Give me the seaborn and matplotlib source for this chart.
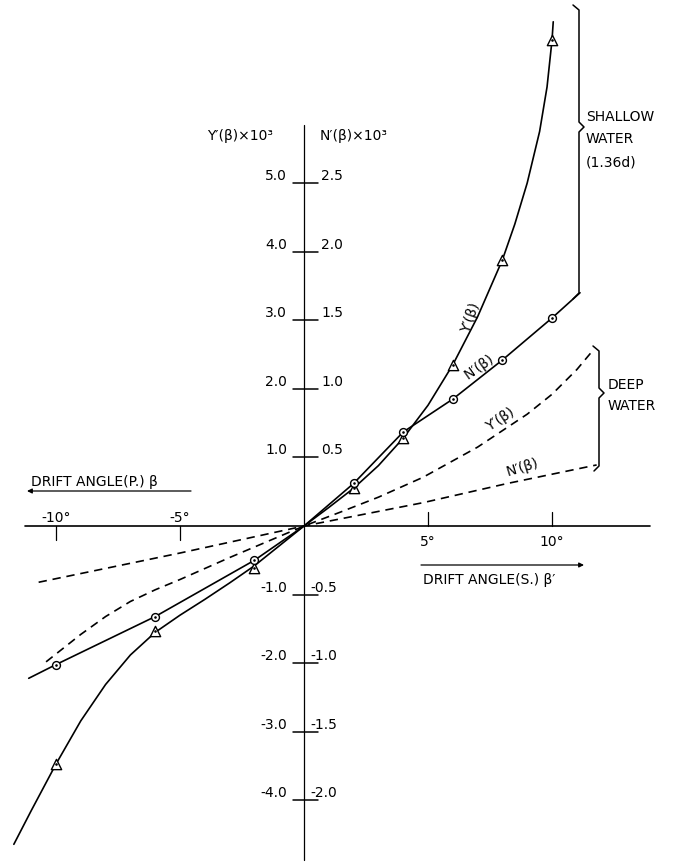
import numpy as np
import pandas as pd
import matplotlib
matplotlib.use("Agg")
import matplotlib.pyplot as plt
import seaborn as sns

sns.set_theme(style="white")
plt.rcParams['font.family'] = ['DejaVu Sans']

# ---------------- data ----------------
# measured points, drift angle in degrees
beta_points = [-10, -6, -2, 2, 4, 6, 8, 10]
Y_shallow_points = [-3.47, -1.53, -0.61, 0.55, 1.28, 2.35, 3.88, 7.08]      # Y'(beta) x10^3
N_shallow_points = [-1.01, -0.66, -0.25, 0.31, 0.685, 0.925, 1.21, 1.516]   # N'(beta) x10^3

# faired curve Y'(beta), shallow water
Y_shallow_curve_beta = [-11.7, -11.0, -10.0, -9.0, -8.0, -7.0, -6.0, -5.0, -4.0, -3.0, -2.0, -1.0,
                        0.0, 1.0, 2.0, 3.0, 4.0, 5.0, 6.0, 7.0, 8.0, 8.5, 9.0, 9.5, 9.8, 10.0, 10.05]
Y_shallow_curve = [-4.64, -4.15, -3.47, -2.84, -2.31, -1.88, -1.55, -1.30, -1.07, -0.83, -0.58, -0.29,
                   0.0, 0.27, 0.55, 0.88, 1.28, 1.76, 2.35, 3.05, 3.88, 4.40, 5.00, 5.75, 6.40, 7.08, 7.35]

# N'(beta), shallow water line
N_shallow_line_beta = [-11.1, -10, -6, -2, 0, 2, 4, 6, 8, 10, 11.13]
N_shallow_line = [-1.11, -1.01, -0.66, -0.25, 0.0, 0.31, 0.685, 0.925, 1.21, 1.516, 1.70]

# deep water curves (dashed)
Y_deep_beta = [-10.4, -9.0, -8.0, -7.0, -6.0, -5.0, -3.0, 0.0, 1.45, 3.0, 4.8, 7.0, 9.0, 10.0, 11.0, 11.65]
Y_deep = [-1.98, -1.58, -1.32, -1.10, -0.93, -0.78, -0.46, 0.0, 0.20, 0.42, 0.71, 1.15, 1.63, 1.92, 2.28, 2.56]
N_deep_beta = [-10.7, -5.0, 0.0, 4.8, 8.2, 11.8]
N_deep = [-0.41, -0.197, 0.0, 0.17, 0.31, 0.445]

# axis ticks
Y_ticks = [-4.0, -3.0, -2.0, -1.0, 1.0, 2.0, 3.0, 4.0, 5.0]
Y_tick_labels = ["-4.0", "-3.0", "-2.0", "-1.0", "1.0", "2.0", "3.0", "4.0", "5.0"]
N_tick_labels = ["-2.0", "-1.5", "-1.0", "-0.5", "0.5", "1.0", "1.5", "2.0", "2.5"]
beta_ticks = [-10, -5, 5, 10]
beta_tick_labels = ["-10°", "-5°", "5°", "10°"]

N_TO_Y = 2.0  # N' scale: 2.5 on N' axis sits at 5.0 on Y' axis

# ---------------- layout ----------------
W, H = 680, 863
X0, Y0 = 304, 526          # pixel position of the origin
SX, SY = 24.8, 68.6        # pixels per degree / per Y' unit


def P(x, y):
    """pixel position -> data coordinates (for annotations only)"""
    return ((x - X0) / SX, (Y0 - y) / SY)


fig = plt.figure(figsize=(W / 100, H / 100), dpi=100)
fig.patch.set_facecolor("white")
ax = fig.add_axes([0, 0, 1, 1])
ax.set_xlim(P(0, 0)[0], P(W, 0)[0])
ax.set_ylim(P(0, H)[1], P(0, 0)[1])
ax.axis("off")

K = "black"
FS = 10

# axes
ax.plot([P(25, 0)[0], P(650, 0)[0]], [0, 0], color=K, lw=1.2)
ax.plot([0, 0], [P(0, 860)[1], P(0, 125)[1]], color=K, lw=0.9)

# y ticks and labels
for v, ly, ln in zip(Y_ticks, Y_tick_labels, N_tick_labels):
    ax.plot([P(293, 0)[0], P(318, 0)[0]], [v, v], color=K, lw=1.1)
    ax.text(P(287, 0)[0], v, ly, ha="right", va="bottom", fontsize=FS, color=K)
    xr = P(321, 0)[0] if v > 0 else P(310, 0)[0]
    ax.text(xr, v, ln, ha="left", va="bottom", fontsize=FS, color=K)

# x ticks and labels
for b, lab in zip(beta_ticks, beta_tick_labels):
    if b < 0:
        ax.plot([b, b], [0, P(0, 540)[1]], color=K, lw=0.9)
        ax.text(b, P(0, 525)[1], lab, ha="center", va="bottom", fontsize=FS, color=K)
    else:
        ax.plot([b, b], [0, P(0, 512)[1]], color=K, lw=0.9)
        ax.text(b, P(0, 535)[1], lab, ha="center", va="top", fontsize=FS, color=K)

# axis titles
ax.text(P(240, 0)[0], P(0, 136)[1], "Y′(β)×10³", ha="center", va="center", fontsize=FS, color=K)
ax.text(P(320, 0)[0], P(0, 136)[1], "N′(β)×10³", ha="left", va="center", fontsize=FS, color=K)

ax.text(P(31, 0)[0], P(0, 482)[1], "DRIFT ANGLE(P.) β", ha="left", va="center", fontsize=FS, color=K)
ax.annotate("", xy=P(27, 491), xytext=P(191, 491),
            arrowprops=dict(arrowstyle="-|>", lw=0.9, color=K, mutation_scale=7, shrinkA=0, shrinkB=0))
ax.text(P(423, 0)[0], P(0, 580)[1], "DRIFT ANGLE(S.) β′", ha="left", va="center", fontsize=FS, color=K)
ax.annotate("", xy=P(584, 565), xytext=P(421, 565),
            arrowprops=dict(arrowstyle="-|>", lw=0.9, color=K, mutation_scale=7, shrinkA=0, shrinkB=0))

# ---------------- curves ----------------
sns.lineplot(x=Y_shallow_curve_beta, y=Y_shallow_curve, sort=False, estimator=None,
             color=K, linewidth=1.2, ax=ax)
sns.lineplot(x=N_shallow_line_beta, y=np.array(N_shallow_line) * N_TO_Y, sort=False, estimator=None,
             color=K, linewidth=1.2, ax=ax)
sns.lineplot(x=Y_deep_beta, y=Y_deep, sort=False, estimator=None,
             color=K, linewidth=1.2, linestyle=(0, (5, 3.5)), ax=ax)
sns.lineplot(x=N_deep_beta, y=np.array(N_deep) * N_TO_Y, sort=False, estimator=None,
             color=K, linewidth=1.2, linestyle=(0, (5, 3.5)), ax=ax)

# markers
sns.scatterplot(x=beta_points, y=Y_shallow_points, marker="^", s=55, facecolor="white",
                edgecolor=K, linewidth=1.0, zorder=5, ax=ax)
sns.scatterplot(x=beta_points, y=np.array(N_shallow_points) * N_TO_Y, marker="o", s=32, facecolor="white",
                edgecolor=K, linewidth=1.0, zorder=6, ax=ax)
ax.scatter(beta_points, Y_shallow_points, marker=".", s=3, color=K, zorder=7)
ax.scatter(beta_points, np.array(N_shallow_points) * N_TO_Y, marker=".", s=3, color=K, zorder=7)

# curve labels
ax.text(*P(471, 318), "Y′(β)", rotation=70, ha="center", va="center", fontsize=FS, color=K)
ax.text(*P(479, 367), "N′(β)", rotation=35, ha="center", va="center", fontsize=FS, color=K)
ax.text(*P(500, 420), "Y′(β)", rotation=33, ha="center", va="center", fontsize=FS, color=K)
ax.text(*P(522, 467), "N′(β)", rotation=17, ha="center", va="center", fontsize=FS, color=K)

# brackets
shallow_br = [(573, 5), (579, 10), (579, 122), (584, 127), (579, 132), (579, 293), (573, 299)]
deep_br = [(593, 346), (599, 351), (599, 388), (604, 393), (599, 398), (599, 466), (594, 471)]
for br in (shallow_br, deep_br):
    pts = np.array([P(x, y) for x, y in br])
    ax.plot(pts[:, 0], pts[:, 1], color=K, lw=1.1)

ax.text(*P(586, 117), "SHALLOW", ha="left", va="center", fontsize=FS, color=K)
ax.text(*P(586, 139), "WATER", ha="left", va="center", fontsize=FS, color=K)
ax.text(*P(586, 162), "(1.36d)", ha="left", va="center", fontsize=FS, color=K)
ax.text(*P(608, 385), "DEEP", ha="left", va="center", fontsize=FS, color=K)
ax.text(*P(608, 406), "WATER", ha="left", va="center", fontsize=FS, color=K)

fig.savefig("out.png", dpi=100, facecolor="white")
